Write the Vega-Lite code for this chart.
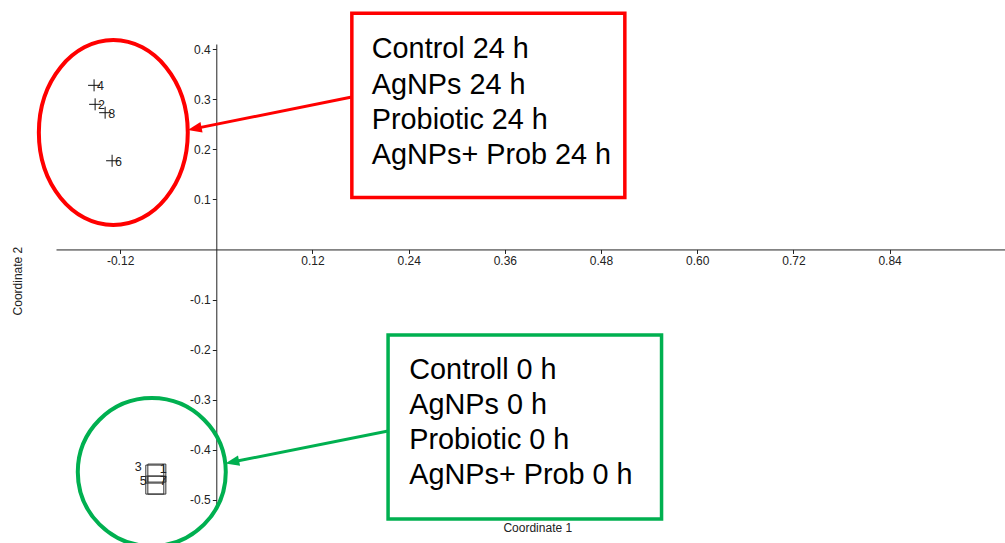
{
  "$schema": "https://vega.github.io/schema/vega-lite/v6.json",
  "width": 949,
  "height": 461,
  "autosize": {"type": "none"},
  "padding": {"left": 56, "top": 44, "right": 0, "bottom": 38},
  "background": "white",
  "config": {
    "view": {"stroke": null},
    "font": "Liberation Sans",
    "locale": {"number": {"decimal": ".", "thousands": ",", "grouping": [3], "currency": ["$", ""], "minus": "-"}},
    "axis": {
      "grid": false,
      "title": null,
      "tickSize": 4,
      "labelPadding": 2,
      "labelFont": "Liberation Sans",
      "labelFontSize": 12,
      "labelColor": "#222222",
      "domainColor": "#222222",
      "tickColor": "#222222",
      "labelFlush": false,
      "labelOverlap": false
    }
  },
  "datasets": {
    "points": [
      {"id": "1", "time": "0 h", "x": -0.0742, "y": -0.4463},
      {"id": "2", "time": "24 h", "x": -0.1512, "y": 0.2896},
      {"id": "3", "time": "0 h", "x": -0.0767, "y": -0.4483},
      {"id": "4", "time": "24 h", "x": -0.1525, "y": 0.3275},
      {"id": "5", "time": "0 h", "x": -0.0767, "y": -0.4703},
      {"id": "6", "time": "24 h", "x": -0.1300, "y": 0.1770},
      {"id": "7", "time": "0 h", "x": -0.0742, "y": -0.4703},
      {"id": "8", "time": "24 h", "x": -0.1387, "y": 0.2729}
    ],
    "rings": [
      {"time": "24 h", "x": -0.1285, "y": 0.2333},
      {"time": "0 h", "x": -0.0805, "y": -0.4443}
    ],
    "arrows": [
      {"time": "24 h", "x": 0.1691, "y": 0.3042, "x2": -0.0270, "y2": 0.2411},
      {"time": "0 h", "x": 0.2143, "y": -0.3625, "x2": 0.0198, "y2": -0.4242}
    ],
    "heads": [
      {"time": "24 h", "x": -0.0270, "y": 0.2411},
      {"time": "0 h", "x": 0.0198, "y": -0.4242}
    ],
    "boxes": [
      {"time": "24 h", "x": 0.1691, "x2": 0.5097, "y": 0.4713, "y2": 0.1036},
      {"time": "0 h", "x": 0.2143, "x2": 0.5555, "y": -0.1709, "y2": -0.5381}
    ],
    "notes": [
      {"time": "24 h", "text": "Control 24 h", "x": 0.1940, "y": 0.3814},
      {"time": "24 h", "text": "AgNPs 24 h", "x": 0.1940, "y": 0.3096},
      {"time": "24 h", "text": "Probiotic 24 h", "x": 0.1940, "y": 0.2403},
      {"time": "24 h", "text": "AgNPs+ Prob 24 h", "x": 0.1940, "y": 0.1711},
      {"time": "0 h", "text": "Controll 0 h", "x": 0.2408, "y": -0.2587},
      {"time": "0 h", "text": "AgNPs 0 h", "x": 0.2408, "y": -0.3285},
      {"time": "0 h", "text": "Probiotic 0 h", "x": 0.2408, "y": -0.3984},
      {"time": "0 h", "text": "AgNPs+ Prob 0 h", "x": 0.2408, "y": -0.4683}
    ]
  },
  "encoding": {
    "x": {
      "field": "x",
      "type": "quantitative",
      "scale": {"domain": [-0.2, 0.984], "nice": false, "zero": false},
      "axis": {
        "values": [-0.12, 0.12, 0.24, 0.36, 0.48, 0.60, 0.72, 0.84],
        "format": ".2f",
        "offset": {"expr": "scale('y', 0) - height"}
      }
    },
    "y": {
      "field": "y",
      "type": "quantitative",
      "scale": {"domain": [-0.51, 0.41], "nice": false, "zero": false},
      "axis": {
        "values": [-0.5, -0.4, -0.3, -0.2, -0.1, 0.1, 0.2, 0.3, 0.4],
        "format": ".1f",
        "offset": {"expr": "-scale('x', 0)"}
      }
    }
  },
  "layer": [
    {
      "data": {"name": "rings"},
      "transform": [{"filter": "datum.time == '24 h'"}],
      "mark": {
        "type": "point",
        "shape": "M 0.805 0 C 0.805 0.5523 0.4446 1 0 1 C -0.4446 1 -0.805 0.5523 -0.805 0 C -0.805 -0.5523 -0.4446 -1 0 -1 C 0.4446 -1 0.805 -0.5523 0.805 0 Z",
        "filled": false,
        "size": 34225,
        "strokeWidth": 4,
        "opacity": 1
      },
      "encoding": {
        "stroke": {"field": "time", "type": "nominal", "scale": {"domain": ["24 h", "0 h"], "range": ["#FF0000", "#00B050"]}, "legend": null}
      }
    },
    {
      "data": {"name": "rings"},
      "transform": [{"filter": "datum.time == '0 h'"}],
      "mark": {
        "type": "point",
        "shape": "M 1 0 C 1 0.5523 0.5523 1 0 1 C -0.5523 1 -1 0.5523 -1 0 C -1 -0.5523 -0.5523 -1 0 -1 C 0.5523 -1 1 -0.5523 1 0 Z",
        "filled": false,
        "size": 21904,
        "strokeWidth": 4,
        "opacity": 1
      },
      "encoding": {
        "stroke": {"field": "time", "type": "nominal", "scale": {"domain": ["24 h", "0 h"], "range": ["#FF0000", "#00B050"]}, "legend": null}
      }
    },
    {
      "data": {"name": "arrows"},
      "mark": {"type": "rule", "strokeWidth": 3},
      "encoding": {
        "x2": {"field": "x2"},
        "y2": {"field": "y2"},
        "stroke": {"field": "time", "type": "nominal", "scale": {"domain": ["24 h", "0 h"], "range": ["#FF0000", "#00B050"]}, "legend": null}
      }
    },
    {
      "data": {"name": "heads"},
      "mark": {"type": "point", "shape": "M -1 0 L 1 -0.75 L 1 0.75 Z", "filled": true, "size": 196, "angle": 348.6, "opacity": 1, "strokeWidth": 0},
      "encoding": {
        "fill": {"field": "time", "type": "nominal", "scale": {"domain": ["24 h", "0 h"], "range": ["#FF0000", "#00B050"]}, "legend": null}
      }
    },
    {
      "data": {"name": "boxes"},
      "mark": {"type": "rect", "fill": "white", "strokeWidth": 3.5},
      "encoding": {
        "x2": {"field": "x2"},
        "y2": {"field": "y2"},
        "stroke": {"field": "time", "type": "nominal", "scale": {"domain": ["24 h", "0 h"], "range": ["#FF0000", "#00B050"]}, "legend": null}
      }
    },
    {
      "data": {"name": "notes"},
      "mark": {"type": "text", "align": "left", "baseline": "alphabetic", "fontSize": 28.8, "font": "Liberation Sans", "color": "#000000"},
      "encoding": {"text": {"field": "text"}}
    },
    {
      "data": {"name": "points"},
      "transform": [{"filter": "datum.time == '24 h'"}],
      "mark": {"type": "point", "shape": "M -1 0 L 1 0 M 0 -1 L 0 1", "filled": false, "size": 144, "stroke": "#111111", "strokeWidth": 1, "opacity": 1}
    },
    {
      "data": {"name": "points"},
      "transform": [{"filter": "datum.time == '0 h'"}],
      "mark": {"type": "point", "shape": "square", "filled": false, "size": 324, "stroke": "#333333", "strokeWidth": 1, "opacity": 1}
    },
    {
      "data": {"name": "points"},
      "transform": [{"filter": "datum.time == '24 h'"}],
      "mark": {"type": "text", "align": "left", "baseline": "middle", "dx": 3, "dy": 1, "fontSize": 12.5, "color": "#222222"},
      "encoding": {"text": {"field": "id"}}
    },
    {
      "data": {"name": "points"},
      "transform": [{"filter": "datum.id == '1' || datum.id == '7'"}],
      "mark": {"type": "text", "align": "left", "baseline": "middle", "dx": 3, "dy": -4, "fontSize": 12.5, "color": "#222222"},
      "encoding": {"text": {"field": "id"}}
    },
    {
      "data": {"name": "points"},
      "transform": [{"filter": "datum.id == '3'"}],
      "mark": {"type": "text", "align": "right", "baseline": "middle", "dx": -13, "dy": -7, "fontSize": 12.5, "color": "#222222"},
      "encoding": {"text": {"field": "id"}}
    },
    {
      "data": {"name": "points"},
      "transform": [{"filter": "datum.id == '5'"}],
      "mark": {"type": "text", "align": "right", "baseline": "middle", "dx": -8, "dy": -4, "fontSize": 12.5, "color": "#222222"},
      "encoding": {"text": {"field": "id"}}
    },
    {
      "data": {"values": [{"text": "Coordinate 1", "x": 0.4011, "y": -0.5647}]},
      "mark": {"type": "text", "align": "center", "baseline": "alphabetic", "fontSize": 12, "color": "#222222"},
      "encoding": {"text": {"field": "text"}}
    },
    {
      "data": {"values": [{"text": "Coordinate 2", "x": -0.2427, "y": -0.0631}]},
      "mark": {"type": "text", "align": "center", "baseline": "alphabetic", "angle": 270, "fontSize": 12, "color": "#222222"},
      "encoding": {"text": {"field": "text"}}
    }
  ]
}
